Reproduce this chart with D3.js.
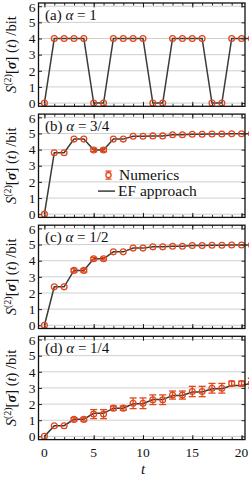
<!DOCTYPE html>
<html lang="en">
<head>
    <meta charset="UTF-8">
    <title>Entropy vs t</title>
    <script src="https://d3js.org/d3.v7.min.js"></script>
    <style>
        body { margin: 0; background: #fff; }
        text { font-family: "Liberation Serif", "DejaVu Serif", serif; fill: #111; }
    </style>
</head>
<body>
    <script>
        const width = 249;
        const height = 478;

        // data
        const tValues = [0,1,2,3,4,5,6,7,8,9,10,11,12,13,14,15,16,17,18,19,20,21];
        const yTicks = [0,1,2,3,4,5,6];
        const xTicks = [0,5,10,15,20];

        const aPoints = [0,4,4,4,4,0,0,4,4,4,4,0,0,4,4,4,4,0,0,4,4,4];
        const aErr    = [0,0,0,0,0,0,0,0,0,0,0,0,0,0,0,0,0,0,0,0,0,0];
        const aLine   = [0,4,4,4,4,0,0,4,4,4,4,0,0,4,4,4,4,0,0,4,4,4];

        const bPoints = [0,3.81,3.81,4.65,4.65,3.98,3.98,4.65,4.65,4.83,4.83,4.85,4.85,4.92,4.92,4.95,4.95,4.97,4.97,4.98,4.98,4.99];
        const bErr    = [0,0.03,0.03,0.04,0.04,0.1,0.1,0.04,0.04,0.03,0.03,0.03,0.03,0.02,0.02,0.02,0.02,0.02,0.02,0.02,0.02,0.02];
        const bLine   = [0,3.81,3.81,4.65,4.65,3.98,3.98,4.65,4.65,4.83,4.83,4.85,4.85,4.92,4.92,4.95,4.95,4.97,4.97,4.98,4.98,4.99];

        const cPoints = [0,2.38,2.38,3.4,3.4,4.12,4.12,4.55,4.55,4.78,4.78,4.86,4.86,4.9,4.9,4.94,4.94,4.96,4.96,4.97,4.97,4.98];
        const cErr    = [0,0.03,0.03,0.1,0.1,0.08,0.08,0.05,0.05,0.03,0.03,0.03,0.03,0.02,0.02,0.02,0.02,0.02,0.02,0.02,0.02,0.02];
        const cLine   = [0,2.38,2.38,3.4,3.4,4.12,4.12,4.55,4.55,4.78,4.78,4.86,4.86,4.9,4.9,4.94,4.94,4.96,4.96,4.97,4.97,4.98];

        const dPoints = [0,0.66,0.66,1.05,1.05,1.38,1.38,1.75,1.75,2.05,2.05,2.27,2.27,2.56,2.56,2.78,2.78,2.98,2.98,3.27,3.27,3.3];
        const dErr    = [0,0.05,0.05,0.1,0.1,0.28,0.28,0.13,0.13,0.33,0.33,0.3,0.3,0.25,0.25,0.32,0.32,0.3,0.3,0.15,0.15,0.3];
        const dLine   = [0,0.66,0.66,1.06,1.06,1.43,1.43,1.75,1.75,2.02,2.02,2.28,2.28,2.53,2.53,2.75,2.75,2.95,2.95,3.15,3.15,3.3];

        const panelLabels = ["(a)", "(b)", "(c)", "(d)"];
        const alphaLabels = ["1", "3/4", "1/2", "1/4"];

        const panels = [
            { points: aPoints, err: aErr, line: aLine },
            { points: bPoints, err: bErr, line: bLine },
            { points: cPoints, err: cErr, line: cLine },
            { points: dPoints, err: dErr, line: dLine }
        ];

        const red = "#e2471b";
        const lineColor = "#3a3a3a";
        const left = 38.5, right = 245;
        const panelTop = 3, panelStep = 111.1, panelH = 103.3;

        const x = d3.scaleLinear().domain([-0.6, 20.35]).range([left, right]);

        const svg = d3.select("body")
            .append("svg")
            .attr("width", width)
            .attr("height", height);

        panels.forEach((p, i) => {
            const top = panelTop + i * panelStep;
            const y = d3.scaleLinear().domain([-0.2, 6.2]).range([top + panelH, top]);
            const g = svg.append("g");

            // grid
            g.selectAll(".grid")
                .data(yTicks)
                .enter().append("line")
                .attr("x1", left).attr("x2", right)
                .attr("y1", d => y(d)).attr("y2", d => y(d))
                .attr("stroke", "#cfcfcf")
                .attr("stroke-width", 1);

            // inside ticks on all four sides
            const yAxisL = d3.axisRight(y).tickValues(yTicks).tickSize(3.5).tickFormat("");
            const yAxisR = d3.axisLeft(y).tickValues(yTicks).tickSize(3.5).tickFormat("");
            const xMinorB = d3.axisTop(x).tickValues(d3.range(0, 21)).tickSize(2.5).tickFormat("");
            const xMajorB = d3.axisTop(x).tickValues(xTicks).tickSize(4.5).tickFormat("");
            const xMinorT = d3.axisBottom(x).tickValues(d3.range(0, 21)).tickSize(2.5).tickFormat("");
            const xMajorT = d3.axisBottom(x).tickValues(xTicks).tickSize(4.5).tickFormat("");

            [[yAxisL, `translate(${left},0)`], [yAxisR, `translate(${right},0)`],
             [xMinorB, `translate(0,${top + panelH})`], [xMajorB, `translate(0,${top + panelH})`],
             [xMinorT, `translate(0,${top})`], [xMajorT, `translate(0,${top})`]].forEach(([ax, tr]) => {
                const a = g.append("g").attr("transform", tr).call(ax);
                a.select(".domain").remove();
                a.selectAll("line").attr("stroke", "#111").attr("stroke-width", 0.9);
            });

            // y tick labels
            g.selectAll(".ylab")
                .data(yTicks)
                .enter().append("text")
                .attr("x", left - 3)
                .attr("y", d => y(d))
                .attr("dy", d => d === 6 ? "0.42em" : "0.35em")
                .attr("text-anchor", "end")
                .attr("font-size", 13.5)
                .text(d => d);

            // y title
            const ty = g.append("text")
                .attr("transform", `translate(16,${top + panelH / 2}) rotate(-90)`)
                .attr("text-anchor", "middle")
                .attr("font-size", 14.5);
            ty.append("tspan").attr("font-style", "italic").text("S");
            ty.append("tspan").attr("font-size", 10).attr("dy", -5).text("(2)");
            ty.append("tspan").attr("dy", 5).text("[");
            ty.append("tspan").attr("font-weight", "bold").attr("font-style", "italic").text("σ");
            ty.append("tspan").text("] (");
            ty.append("tspan").attr("font-style", "italic").text("t");
            ty.append("tspan").text(") /bit");

            // EF approach line
            const lineGen = d3.line()
                .x((d, k) => x(tValues[k]))
                .y(d => y(d));
            g.append("path")
                .datum(p.line)
                .attr("d", lineGen)
                .attr("fill", "none")
                .attr("stroke", lineColor)
                .attr("stroke-width", 1.5);

            // error bars
            const eb = g.append("g")
                .selectAll("g")
                .data(tValues.map((t, k) => ({ t, v: p.points[k], e: p.err[k] })).filter(d => d.e > 0.06))
                .enter().append("g")
                .attr("stroke", red)
                .attr("stroke-width", 1.3);
            eb.append("line")
                .attr("x1", d => x(d.t)).attr("x2", d => x(d.t))
                .attr("y1", d => y(d.v - d.e)).attr("y2", d => y(d.v + d.e));
            eb.append("line")
                .attr("x1", d => x(d.t) - 3.5).attr("x2", d => x(d.t) + 3.5)
                .attr("y1", d => y(d.v - d.e)).attr("y2", d => y(d.v - d.e));
            eb.append("line")
                .attr("x1", d => x(d.t) - 3.5).attr("x2", d => x(d.t) + 3.5)
                .attr("y1", d => y(d.v + d.e)).attr("y2", d => y(d.v + d.e));

            // numerics markers
            g.append("g")
                .selectAll("circle")
                .data(p.points)
                .enter().append("circle")
                .attr("cx", (d, k) => x(tValues[k]))
                .attr("cy", d => y(d))
                .attr("r", 2.9)
                .attr("fill", "none")
                .attr("stroke", red)
                .attr("stroke-width", 1.3);

            // frame
            g.append("rect")
                .attr("x", left).attr("y", top)
                .attr("width", right - left).attr("height", panelH)
                .attr("fill", "none")
                .attr("stroke", "#111")
                .attr("stroke-width", 1.3);

            // panel label
            const pl = g.append("text")
                .attr("x", 45)
                .attr("y", top + 17)
                .attr("font-size", 15);
            pl.append("tspan").text(panelLabels[i] + " ");
            pl.append("tspan").attr("font-style", "italic").text("α");
            pl.append("tspan").text(" = " + alphaLabels[i]);

            if (i === 1) {
                // legend
                const lx = 108.5, ly1 = top + 61, ly2 = top + 77;
                const lg = g.append("g");
                lg.append("line").attr("x1", lx).attr("x2", lx).attr("y1", ly1 - 4).attr("y2", ly1 + 4)
                    .attr("stroke", red).attr("stroke-width", 1.3);
                lg.append("line").attr("x1", lx - 3).attr("x2", lx + 3).attr("y1", ly1 - 4).attr("y2", ly1 - 4)
                    .attr("stroke", red).attr("stroke-width", 1.3);
                lg.append("line").attr("x1", lx - 3).attr("x2", lx + 3).attr("y1", ly1 + 4).attr("y2", ly1 + 4)
                    .attr("stroke", red).attr("stroke-width", 1.3);
                lg.append("circle").attr("cx", lx).attr("cy", ly1).attr("r", 2.6)
                    .attr("fill", "#fff").attr("stroke", red).attr("stroke-width", 1.3);
                lg.append("text").attr("x", 119).attr("y", ly1).attr("dy", "0.33em")
                    .attr("font-size", 15.5).text("Numerics");
                lg.append("line").attr("x1", 98).attr("x2", 115).attr("y1", ly2).attr("y2", ly2)
                    .attr("stroke", lineColor).attr("stroke-width", 1.5);
                lg.append("text").attr("x", 118).attr("y", ly2).attr("dy", "0.33em")
                    .attr("font-size", 15.5).text("EF approach");
            }

            if (i === 3) {
                g.selectAll(".xlab")
                    .data(xTicks)
                    .enter().append("text")
                    .attr("x", d => x(d))
                    .attr("y", top + panelH + 17)
                    .attr("text-anchor", "middle")
                    .attr("font-size", 13.5)
                    .text(d => d);
                g.append("text")
                    .attr("x", x(10))
                    .attr("y", top + panelH + 34)
                    .attr("text-anchor", "middle")
                    .attr("font-size", 15)
                    .attr("font-style", "italic")
                    .text("t");
            }
        });
    </script>
</body>
</html>
